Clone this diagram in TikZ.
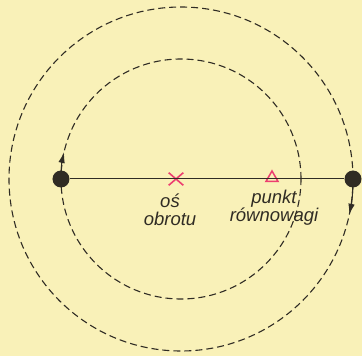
\documentclass[tikz,border=0pt]{standalone}
\usepackage{fontspec}
\setmainfont{Liberation Sans}
\usetikzlibrary{arrows.meta, positioning, shapes.geometric, shapes.misc}
\definecolor{paper}{RGB}{249,241,184}
\definecolor{ink}{RGB}{48,44,36}
\definecolor{markpink}{RGB}{236,62,112}
\tikzset{
  % dashed orbit of a mass
  orbit/.style={draw=ink, line width=1.1pt, dash pattern=on 7pt off 4pt},
  mass/.style={circle, fill=ink, minimum size=17pt, inner sep=0pt},
  rod/.style={draw=ink, line width=1pt},
  motion/.style={-{Latex[length=11pt, width=6.5pt]}, draw=ink, line width=1.1pt},
  caption/.style={font=\fontsize{18.5}{18}\selectfont\itshape, text=ink, align=center, inner sep=0pt},
  % markers on the rod
  axismark/.style={cross out, draw=markpink, line width=1.6pt, minimum width=13pt, minimum height=11pt, inner sep=0pt},
  balancemark/.style={regular polygon, regular polygon sides=3, draw=markpink, line width=1.5pt, minimum size=14pt, inner sep=0pt}
}
\begin{document}
\begin{tikzpicture}[x=1pt, y=1pt]
  % paper background
  \fill[paper] (-181,-177) rectangle (181,179);
  \useasboundingbox (-181,-177) rectangle (181,179);

  % orbits
  \draw[orbit] (0,0) circle[radius=120];
  \draw[orbit] (0,0) circle[radius=172];

  % masses and markers
  \node[mass] (leftmass) at (-120,0) {};
  \node[mass] (rightmass) at (172,0) {};
  \node[axismark] (axis) at (-5,0) {};
  \node[balancemark] (balance) at (91,1) {};

  % rod between the masses
  \draw[rod] (leftmass) -- (rightmass);

  % direction of motion
  \draw[motion] (leftmass.center) arc[start angle=180, end angle=167, radius=120];
  \draw[motion] (rightmass.center) arc[start angle=0, end angle=-12, radius=172];

  % labels
  \node[caption, below=8pt of axis, xshift=-6pt] (axislabel) {oś\\obrotu};
  \node[caption, below=8pt of balance, xshift=2pt] (balancelabel) {punkt\\równowagi};
\end{tikzpicture}
\end{document}
